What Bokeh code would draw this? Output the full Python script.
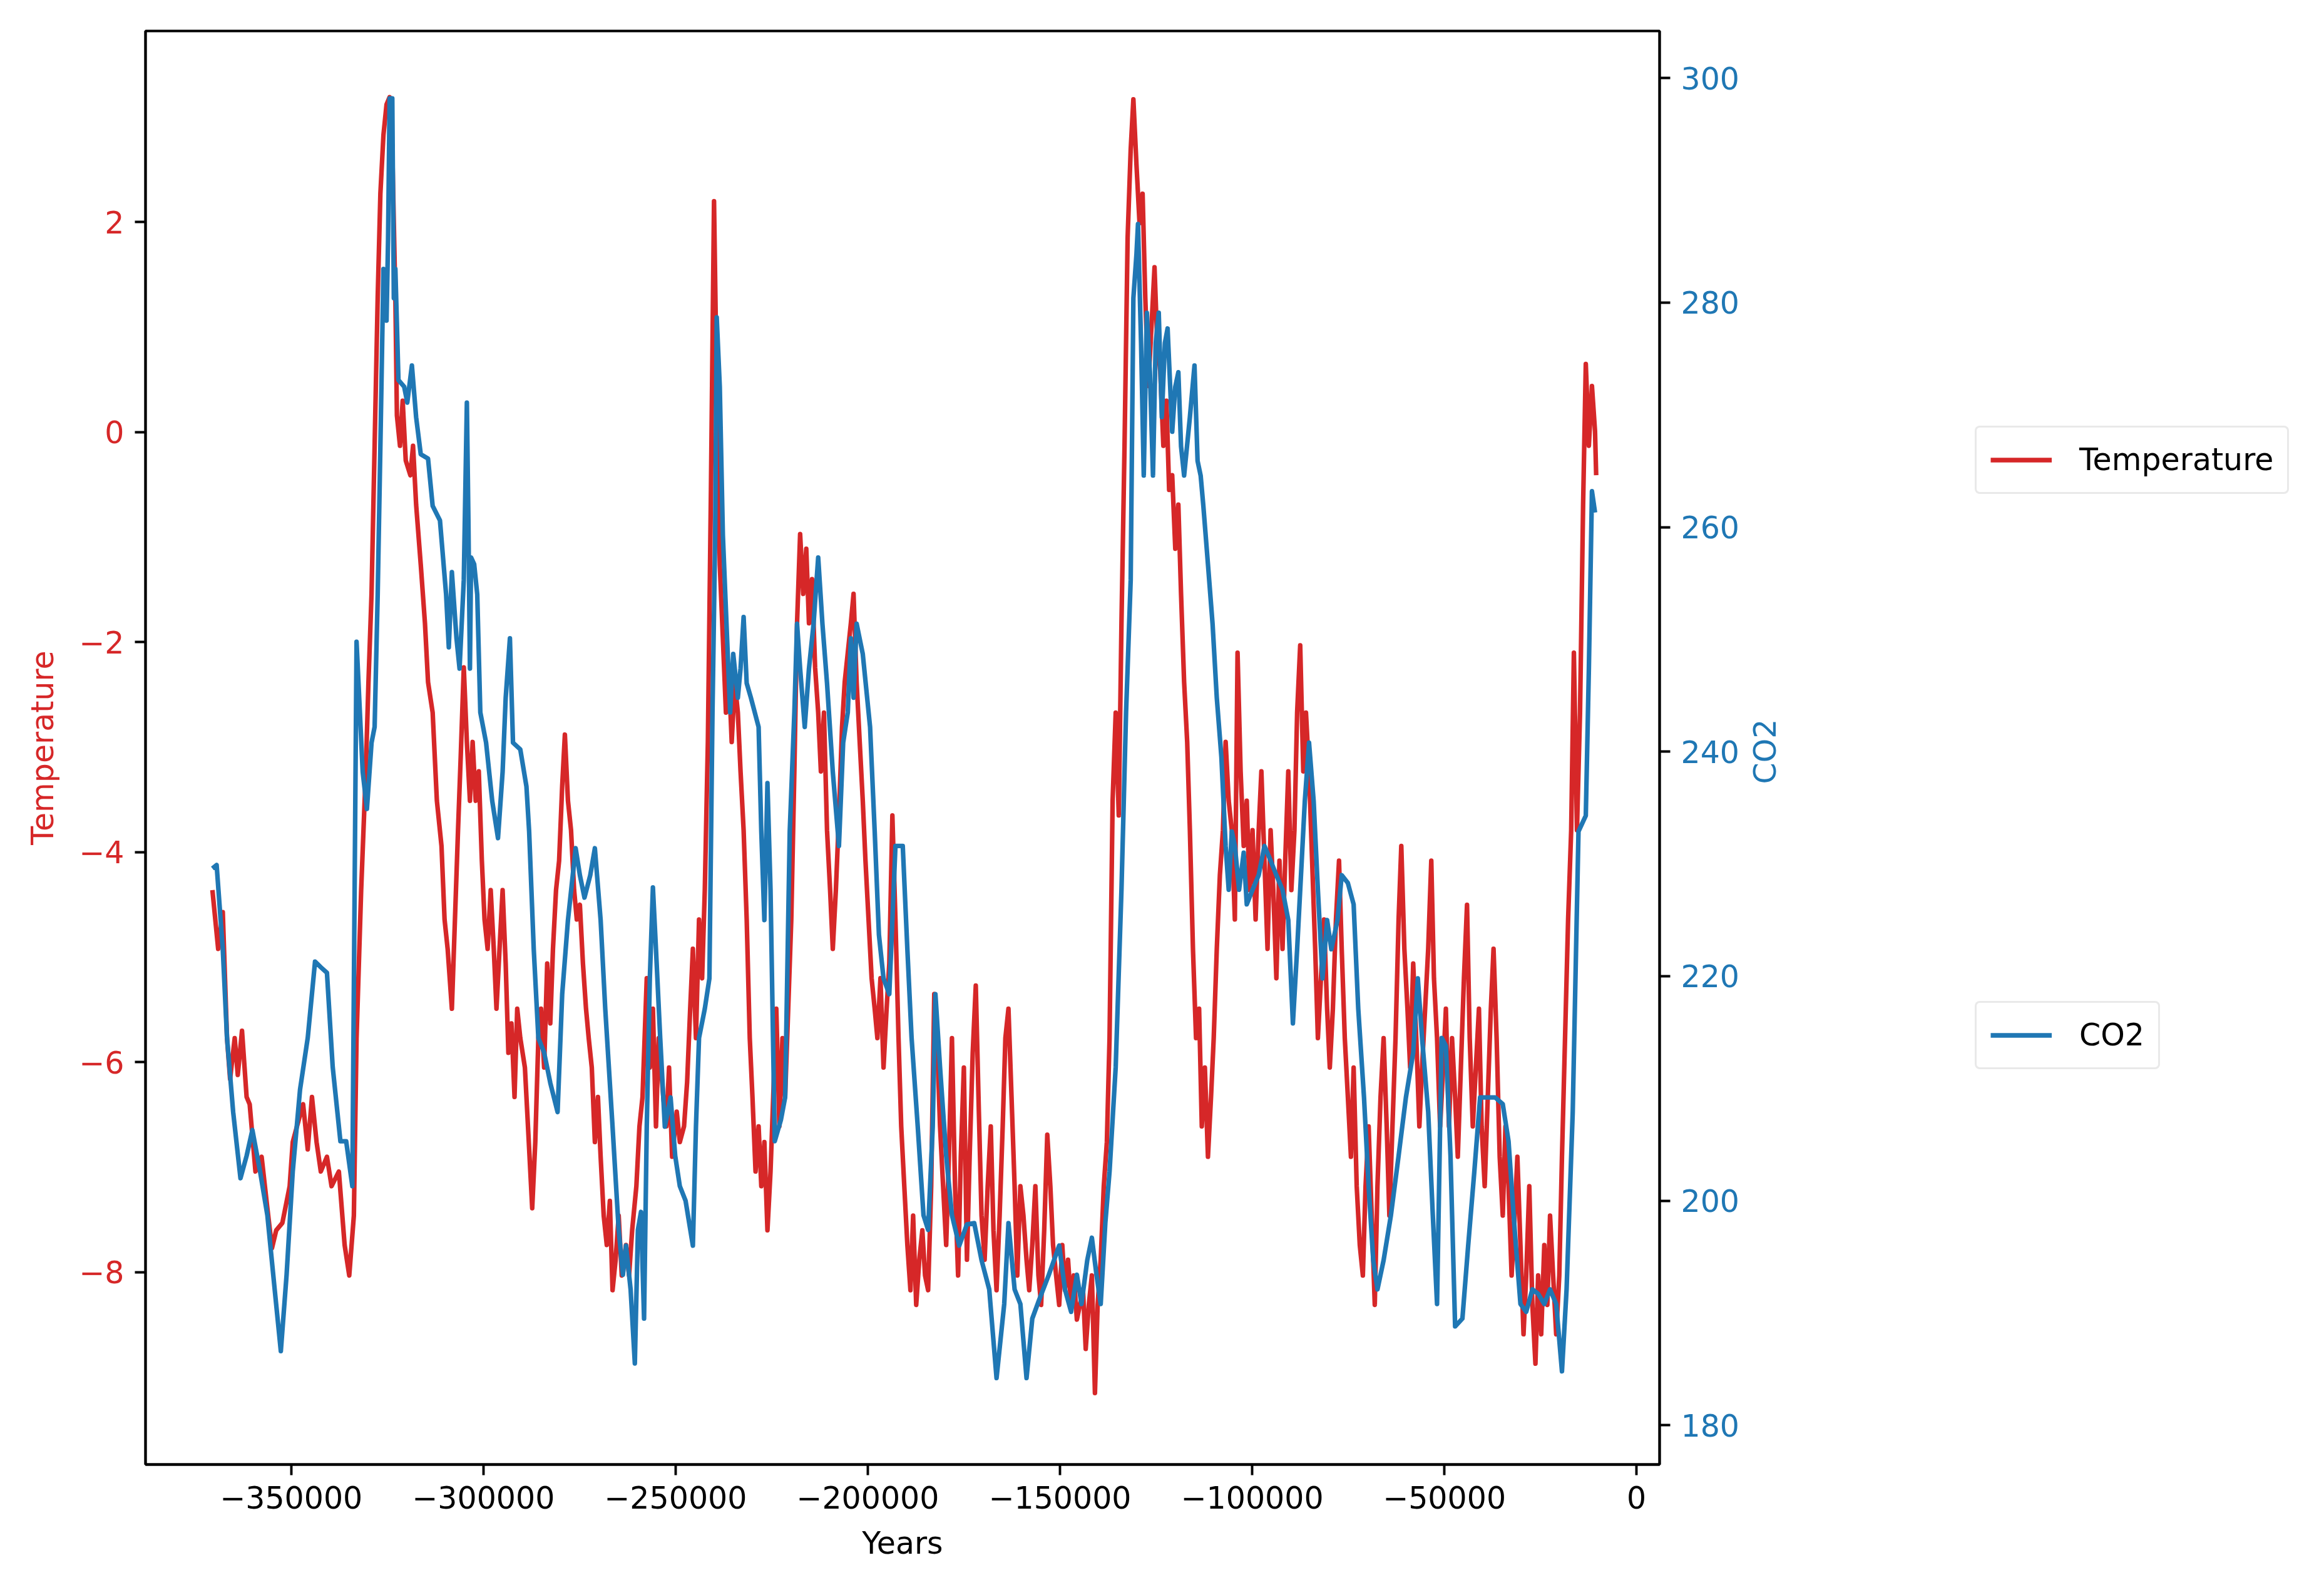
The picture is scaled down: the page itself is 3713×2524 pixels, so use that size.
from bokeh.plotting import figure
from bokeh.layouts import row
from bokeh.models import (Range1d, LinearAxis, FixedTicker, CustomJSTickFormatter,
                          Legend, LegendItem, Label)
from bokeh.embed import file_html
from bokeh.resources import INLINE

# ---------------- data ----------------
temp_kyr = [
    -370.5, -369.0, -367.8, -366.7, -365.9, -364.7, -363.9, -362.8, -361.6, -360.8,
    -359.3, -357.7, -356.2, -355.0, -353.9, -352.3, -350.4, -349.6, -348.5, -346.9,
    -345.7, -344.6, -343.4, -342.3, -340.7, -339.5, -337.6, -336.1, -334.9, -333.7,
    -333.0, -331.8, -330.6, -329.9, -329.1, -328.3, -327.5, -326.8, -326.0, -325.2,
    -324.4, -323.7, -322.9, -322.5, -321.7, -321.0, -320.2, -319.0, -318.3, -317.5,
    -316.3, -315.2, -314.4, -313.2, -312.1, -310.9, -310.1, -309.3, -308.2, -307.4,
    -306.6, -305.9, -305.1, -304.3, -303.5, -302.8, -302.0, -301.2, -300.4, -299.7,
    -298.9, -298.1, -297.3, -296.6, -295.8, -295.0, -294.2, -293.5, -292.7, -291.9,
    -291.2, -290.4, -289.2, -288.4, -287.3, -286.5, -285.7, -285.0, -284.2, -283.4,
    -282.6, -281.9, -281.1, -280.3, -279.5, -278.8, -278.0, -277.2, -276.4, -275.7,
    -274.9, -274.1, -273.3, -272.6, -271.8, -271.0, -270.2, -269.5, -268.7, -267.9,
    -267.1, -266.4, -265.6, -264.8, -264.0, -262.9, -262.1, -261.3, -260.2, -259.4,
    -258.6, -257.5, -256.7, -255.9, -255.1, -254.4, -253.2, -252.4, -251.7, -250.9,
    -249.7, -248.9, -247.8, -247.0, -246.2, -245.5, -244.7, -243.9, -243.1, -242.4,
    -241.6, -240.8, -240.0, -239.3, -238.5, -237.7, -236.9, -236.2, -235.4, -234.6,
    -233.8, -233.1, -232.3, -231.5, -230.7, -230.0, -229.2, -228.4, -227.7, -226.9,
    -226.1, -225.3, -224.6, -223.8, -223.0, -222.2, -221.5, -220.7, -219.9, -219.1,
    -218.4, -217.6, -216.8, -216.0, -215.3, -214.5, -213.7, -212.9, -212.2, -211.4,
    -210.6, -209.8, -209.1, -208.3, -207.5, -206.7, -206.0, -205.2, -204.4, -203.7,
    -202.9, -202.1, -201.3, -200.6, -199.8, -199.0, -198.2, -197.5, -196.7, -195.9,
    -195.1, -194.4, -193.6, -192.8, -192.0, -191.3, -190.5, -189.7, -188.9, -188.2,
    -187.4, -186.6, -185.8, -185.1, -184.3, -183.5, -182.7, -182.0, -181.2, -180.4,
    -179.6, -178.9, -178.1, -177.3, -176.5, -175.8, -175.0, -174.2, -173.5, -172.7,
    -171.9, -171.1, -170.4, -169.6, -168.8, -168.0, -167.3, -166.5, -165.7, -164.9,
    -164.2, -163.4, -162.6, -161.8, -161.1, -160.3, -159.5, -158.7, -158.0, -157.2,
    -156.4, -155.6, -154.9, -154.1, -153.3, -152.5, -151.8, -151.0, -150.2, -149.4,
    -148.7, -147.9, -147.1, -146.4, -145.6, -144.8, -144.0, -143.3, -142.5, -141.7,
    -140.9, -140.2, -139.4, -138.6, -137.8, -137.1, -136.3, -135.5, -134.7, -134.0,
    -133.2, -132.4, -131.6, -130.9, -130.1, -129.3, -128.5, -127.8, -127.0, -126.2,
    -125.4, -124.7, -123.9, -123.1, -122.3, -121.6, -120.8, -120.0, -119.2, -118.5,
    -117.7, -116.9, -116.2, -115.4, -114.6, -113.8, -113.1, -112.3, -111.5, -110.7,
    -110.0, -109.2, -108.4, -107.6, -106.9, -106.1, -105.3, -104.5, -103.8, -103.0,
    -102.2, -101.4, -100.7, -99.9, -99.1, -98.3, -97.6, -96.8, -96.0, -95.2,
    -94.5, -93.7, -92.9, -92.1, -91.4, -90.6, -89.8, -89.0, -88.3, -87.5,
    -86.7, -86.0, -85.2, -84.4, -83.6, -82.9, -82.1, -81.3, -80.5, -79.8,
    -79.0, -78.2, -77.4, -76.7, -75.9, -75.1, -74.3, -73.6, -72.8, -72.0,
    -71.2, -70.5, -69.7, -68.9, -68.1, -67.4, -66.6, -65.8, -65.0, -64.3,
    -63.5, -62.7, -61.9, -61.2, -60.4, -59.6, -58.9, -58.1, -57.3, -56.5,
    -55.8, -55.0, -54.2, -53.4, -52.7, -51.9, -51.1, -50.3, -49.6, -48.8,
    -48.0, -47.2, -46.5, -45.7, -44.9, -44.1, -43.4, -42.6, -41.8, -41.0,
    -40.3, -39.5, -38.7, -37.9, -37.2, -36.4, -35.6, -34.8, -34.1, -33.3,
    -32.5, -31.7, -31.0, -30.2, -29.4, -28.7, -27.9, -27.1, -26.3, -25.6,
    -24.8, -24.0, -23.2, -22.5, -21.7, -20.9, -20.1, -19.4, -18.6, -17.8,
    -17.0, -16.3, -15.5, -14.7, -13.9, -13.2, -12.4, -11.6, -10.8, -10.5,
]
temp_values = [
    -4.36, -4.92, -4.57, -5.77, -6.16, -5.77, -6.12, -5.70, -6.33, -6.40,
    -7.04, -6.90, -7.39, -7.77, -7.60, -7.53, -7.18, -6.76, -6.61, -6.40,
    -6.83, -6.33, -6.76, -7.04, -6.90, -7.18, -7.04, -7.74, -8.03, -7.46,
    -5.77, -4.36, -3.23, -2.38, -1.54, -0.13, 1.28, 2.27, 2.83, 3.12,
    3.19, 2.69, 1.28, 0.16, -0.13, 0.30, -0.27, -0.41, -0.13, -0.69,
    -1.26, -1.82, -2.38, -2.67, -3.51, -3.94, -4.64, -4.92, -5.49, -4.64,
    -3.79, -3.09, -2.24, -2.95, -3.51, -2.95, -3.51, -3.23, -4.08, -4.64,
    -4.92, -4.36, -4.92, -5.49, -4.92, -4.36, -5.06, -5.91, -5.63, -6.33,
    -5.49, -5.77, -6.05, -6.61, -7.39, -6.76, -5.77, -5.49, -6.05, -5.06,
    -5.63, -4.92, -4.36, -4.08, -3.37, -2.88, -3.51, -3.79, -4.36, -4.64,
    -4.50, -5.06, -5.49, -5.77, -6.05, -6.76, -6.33, -6.90, -7.46, -7.74,
    -7.32, -8.17, -7.88, -7.46, -8.03, -7.74, -8.03, -7.60, -7.18, -6.61,
    -6.33, -5.20, -6.05, -5.49, -6.61, -5.77, -6.33, -6.61, -6.05, -6.90,
    -6.47, -6.76, -6.61, -6.19, -5.49, -4.92, -5.77, -4.64, -5.20, -4.36,
    -2.95, -0.55, 2.20, 0.44, -1.26, -1.96, -2.67, -2.24, -2.95, -2.38,
    -2.67, -3.23, -3.79, -4.64, -5.77, -6.33, -7.04, -6.61, -7.18, -6.76,
    -7.60, -7.04, -6.33, -5.49, -6.61, -5.77, -6.33, -5.49, -4.64, -3.23,
    -1.82, -0.97, -1.54, -1.11, -1.82, -1.40, -2.24, -2.67, -3.23, -2.67,
    -3.79, -4.36, -4.92, -4.36, -3.65, -2.81, -2.38, -2.10, -1.82, -1.54,
    -2.38, -2.95, -3.51, -4.08, -4.64, -5.20, -5.49, -5.77, -5.20, -6.05,
    -5.49, -5.06, -3.65, -4.64, -5.77, -6.61, -7.18, -7.74, -8.17, -7.46,
    -8.31, -7.88, -7.60, -8.03, -8.17, -7.18, -5.35, -5.77, -6.61, -7.18,
    -7.74, -6.90, -5.77, -7.18, -8.03, -6.90, -6.05, -7.88, -6.90, -5.91,
    -5.27, -6.47, -7.46, -7.88, -7.18, -6.61, -7.60, -8.17, -7.46, -6.61,
    -5.77, -5.49, -6.33, -7.18, -8.03, -7.18, -7.46, -7.88, -8.17, -7.74,
    -7.18, -8.03, -8.31, -7.60, -6.69, -7.18, -7.74, -8.03, -8.31, -7.74,
    -8.17, -7.88, -8.31, -8.03, -8.45, -8.31, -8.17, -8.73, -8.31, -8.03,
    -9.15, -8.31, -7.88, -7.18, -6.76, -5.77, -3.51, -2.67, -3.65, -1.82,
    -0.13, 1.85, 2.69, 3.17, 2.55, 1.99, 2.27, 1.28, 0.44, 1.00,
    1.57, 0.86, 0.58, -0.13, 0.30, -0.55, -0.41, -1.11, -0.69, -1.54,
    -2.38, -2.95, -3.79, -4.92, -5.77, -5.49, -6.61, -6.05, -6.90, -6.33,
    -5.77, -4.92, -4.22, -3.79, -2.95, -3.51, -3.79, -4.64, -2.10, -3.23,
    -3.94, -3.51, -4.36, -3.79, -4.64, -3.79, -3.23, -4.08, -4.92, -3.79,
    -4.36, -5.20, -4.08, -4.92, -4.08, -3.23, -4.36, -3.79, -2.67, -2.03,
    -3.23, -2.67, -3.23, -4.08, -4.92, -5.77, -5.20, -4.64, -5.49, -6.05,
    -5.49, -4.64, -4.08, -4.92, -5.77, -6.33, -6.90, -6.05, -7.18, -7.74,
    -8.03, -7.18, -6.61, -7.46, -8.31, -7.18, -6.33, -5.77, -6.61, -7.46,
    -6.61, -5.77, -4.64, -3.94, -4.92, -5.49, -6.05, -5.06, -5.77, -6.61,
    -6.05, -5.49, -4.92, -4.08, -5.20, -5.77, -6.61, -6.05, -5.49, -6.61,
    -5.77, -6.33, -6.90, -6.05, -5.20, -4.50, -5.77, -6.61, -6.05, -5.49,
    -6.61, -7.18, -6.33, -5.49, -4.92, -5.77, -6.90, -7.46, -6.61, -7.18,
    -8.03, -7.46, -6.90, -7.74, -8.59, -8.03, -7.18, -8.31, -8.87, -8.03,
    -8.59, -7.74, -8.31, -7.46, -8.03, -8.59, -8.03, -6.90, -5.77, -4.64,
    -3.79, -2.10, -3.79, -2.67, -0.69, 0.65, -0.13, 0.44, 0.01, -0.41,
]

co2_kyr = [
    -370.5, -369.4, -367.8, -366.7, -365.1, -363.2, -361.6, -360.1, -358.1, -356.2,
    -354.3, -352.7, -351.2, -349.6, -347.7, -345.7, -343.8, -342.3, -340.7, -339.2,
    -337.2, -335.7, -334.1, -333.0, -331.4, -330.3, -329.1, -328.3, -327.5, -326.8,
    -326.0, -325.2, -324.8, -324.4, -323.7, -323.3, -322.9, -322.1, -320.6, -319.8,
    -318.6, -317.5, -316.3, -314.4, -313.2, -311.3, -309.7, -309.0, -308.2, -307.0,
    -306.2, -305.1, -304.3, -303.9, -303.5, -303.2, -302.4, -301.6, -300.8, -299.3,
    -297.7, -296.2, -295.0, -294.2, -293.1, -292.3, -290.4, -288.8, -288.1, -286.9,
    -285.7, -284.2, -282.6, -280.7, -279.5, -278.0, -276.0, -274.9, -273.7, -272.2,
    -271.0, -269.5, -268.3, -266.4, -264.8, -263.7, -262.9, -261.7, -260.6, -259.8,
    -259.0, -258.2, -257.5, -256.7, -255.9, -255.1, -254.0, -252.8, -251.3, -250.1,
    -248.9, -247.4, -245.5, -244.7, -243.9, -242.4, -241.2, -240.4, -239.7, -239.3,
    -238.5, -237.7, -236.6, -235.8, -235.0, -233.8, -233.1, -232.3, -231.5, -230.4,
    -228.4, -227.7, -226.9, -226.1, -225.3, -224.2, -222.6, -221.5, -220.3, -219.1,
    -218.4, -217.6, -216.4, -215.3, -214.1, -212.9, -211.8, -210.6, -209.1, -207.5,
    -206.4, -205.2, -204.4, -203.7, -202.9, -201.3, -199.4, -198.2, -197.1, -195.9,
    -194.4, -192.8, -190.9, -189.7, -188.6, -187.0, -185.5, -184.3, -183.1, -182.4,
    -181.2, -179.6, -178.1, -176.2, -174.2, -172.3, -170.4, -168.4, -166.5, -164.5,
    -163.4, -161.8, -160.3, -158.7, -157.2, -155.6, -152.9, -150.2, -148.7, -147.1,
    -145.6, -144.4, -142.9, -141.7, -140.5, -139.4, -138.2, -137.1, -135.5, -134.0,
    -132.8, -131.6, -130.9, -130.1, -129.7, -128.9, -128.2, -127.4, -126.6, -125.8,
    -125.1, -124.3, -123.5, -122.7, -122.0, -120.8, -120.0, -119.2, -118.5, -117.7,
    -116.2, -115.0, -114.2, -113.4, -112.7, -111.5, -110.3, -109.2, -108.0, -106.9,
    -106.1, -105.3, -104.5, -103.4, -102.2, -101.4, -99.9, -98.3, -96.8, -95.2,
    -93.7, -92.1, -90.6, -89.4, -88.3, -87.1, -86.3, -85.2, -84.0, -82.9,
    -81.7, -80.5, -79.4, -77.8, -76.7, -75.1, -73.6, -72.4, -70.9, -69.7,
    -68.5, -67.4, -65.8, -63.9, -61.9, -60.0, -58.1, -56.9, -55.8, -54.2,
    -53.0, -51.9, -50.7, -49.6, -48.4, -47.2, -45.3, -43.8, -42.2, -40.7,
    -38.7, -36.8, -34.8, -33.3, -31.7, -30.2, -28.7, -27.1, -25.6, -24.0,
    -22.5, -20.9, -19.4, -18.2, -16.6, -15.1, -13.2, -12.4, -11.6, -10.8,
]
co2_values = [
    229.6, 229.9, 222.4, 214.5, 207.9, 202.0, 204.0, 206.3, 202.6, 198.7,
    192.1, 186.6, 193.4, 202.6, 209.9, 214.5, 221.3, 220.8, 220.3, 211.9,
    205.3, 205.3, 201.3, 249.8, 238.2, 234.9, 240.8, 242.2, 254.0, 267.2,
    283.0, 278.4, 285.6, 298.2, 298.2, 280.4, 283.0, 273.1, 272.5, 271.1,
    274.4, 269.8, 266.5, 266.1, 261.9, 260.6, 254.0, 249.3, 256.0, 250.1,
    247.4, 255.3, 271.1, 260.6, 247.4, 257.3, 256.7, 254.0, 243.5, 240.8,
    235.6, 232.3, 238.2, 244.8, 250.1, 240.8, 240.2, 236.9, 232.9, 222.4,
    214.5, 213.2, 210.5, 207.9, 218.4, 225.0, 231.4, 229.0, 227.0, 229.0,
    231.4, 225.0, 217.1, 206.6, 197.4, 193.4, 196.0, 192.1, 185.5, 197.4,
    199.0, 189.5, 206.6, 219.8, 227.9, 222.4, 214.5, 206.6, 209.2, 204.0,
    201.3, 200.0, 196.0, 206.6, 214.5, 217.1, 219.8, 243.5, 259.3, 278.7,
    272.5, 259.3, 250.1, 243.5, 248.7, 244.8, 247.4, 252.0, 246.1, 244.8,
    242.2, 232.9, 225.0, 237.2, 227.7, 205.3, 207.2, 209.2, 232.9, 243.5,
    251.4, 247.4, 242.2, 247.4, 251.4, 257.3, 251.4, 246.1, 238.2, 231.6,
    240.8, 243.5, 250.1, 244.8, 251.4, 248.7, 242.2, 232.9, 223.7, 219.8,
    218.4, 231.6, 231.6, 222.4, 214.5, 206.6, 198.7, 197.4, 206.6, 218.4,
    211.9, 204.0, 198.7, 196.0, 197.9, 198.0, 194.7, 192.1, 184.2, 190.8,
    198.0, 192.1, 190.8, 184.2, 189.5, 191.0, 193.4, 196.0, 192.1, 190.1,
    193.4, 190.8, 194.7, 196.7, 193.4, 190.8, 198.0, 202.6, 211.9, 227.7,
    243.5, 255.3, 280.4, 284.3, 287.0, 276.4, 264.6, 279.1, 273.8, 264.6,
    276.4, 279.1, 269.8, 276.4, 277.7, 268.5, 272.5, 273.8, 267.2, 264.6,
    269.8, 274.4, 265.9, 264.6, 261.9, 256.7, 251.4, 244.8, 239.5, 231.6,
    227.7, 232.9, 231.6, 227.7, 231.0, 226.4, 227.7, 229.0, 231.6, 230.3,
    229.0, 227.7, 225.0, 215.8, 222.4, 230.3, 235.6, 240.8, 235.6, 227.7,
    219.8, 225.0, 222.4, 225.0, 229.0, 228.3, 226.4, 217.1, 209.2, 201.3,
    194.7, 192.1, 194.7, 198.7, 204.0, 209.2, 213.2, 219.8, 214.5, 207.9,
    198.7, 190.8, 214.5, 213.8, 204.0, 188.8, 189.5, 196.0, 202.6, 209.2,
    209.2, 209.2, 208.6, 205.3, 197.4, 190.8, 190.1, 192.1, 191.7, 190.8,
    192.1, 190.8, 184.8, 192.1, 207.9, 232.9, 234.3, 247.4, 263.2, 261.3,
]

x_ticks = [-350000, -300000, -250000, -200000, -150000, -100000, -50000, 0]
temp_ticks = [-8, -6, -4, -2, 0, 2]
co2_ticks = [180, 200, 220, 240, 260, 280, 300]

temp_years = [k * 1000 for k in temp_kyr]
co2_years = [k * 1000 for k in co2_kyr]

RED = "#d62728"
BLUE = "#1f77b4"
FONT = "DejaVu Sans"
FS = "49px"

TOTAL_W = 3697
H = 2508
MAIN_W = 2790

p = figure(width=MAIN_W, height=H, output_backend="svg", toolbar_location=None,
           x_range=Range1d(-387900, 6000), y_range=Range1d(-9.83, 3.82),
           min_border_left=232, min_border_right=139, min_border_top=49,
           min_border_bottom=169)
p.extra_y_ranges = {"co2": Range1d(176.5, 304.2)}
p.grid.visible = False
p.background_fill_color = "white"
p.border_fill_color = "white"
p.outline_line_color = "black"
p.outline_line_width = 3.9

minus_fmt = "return (tick < 0 ? '\\u2212' : '') + Math.abs(tick).toFixed(0);"

def style_axis(ax, color_labels, color_title):
    ax.major_tick_in = 0
    ax.major_tick_out = 17
    ax.minor_tick_in = 0
    ax.minor_tick_out = 0
    ax.major_tick_line_width = 3.9
    ax.major_tick_line_color = "black"
    ax.axis_line_width = 3.9
    ax.axis_line_color = "black"
    ax.major_label_text_font = FONT
    ax.major_label_text_font_size = FS
    ax.major_label_text_color = color_labels
    ax.major_label_standoff = 17
    ax.axis_label_text_font = FONT
    ax.axis_label_text_font_size = FS
    ax.axis_label_text_font_style = "normal"
    ax.axis_label_text_color = color_title
    ax.formatter = CustomJSTickFormatter(code=minus_fmt)

xa = p.xaxis[0]
xa.ticker = FixedTicker(ticks=x_ticks)
xa.axis_label = "Years"
style_axis(xa, "black", "black")
xa.axis_label_standoff = 24

ya = p.yaxis[0]
ya.ticker = FixedTicker(ticks=temp_ticks)
ya.axis_label = "Temperature"
style_axis(ya, RED, RED)
ya.axis_label_standoff = 26

ra = LinearAxis(y_range_name="co2")
ra.ticker = FixedTicker(ticks=co2_ticks)
style_axis(ra, BLUE, BLUE)
p.add_layout(ra, "right")

r_temp = p.line(temp_years, temp_values, line_color=RED, line_width=7.3,
                line_join="round")
r_co2 = p.line(co2_years, co2_values, line_color=BLUE, line_width=7.3,
               line_join="round", y_range_name="co2")

# ---------------- side panel: CO2 axis title and the two legends ----------------
side = figure(width=TOTAL_W - MAIN_W, height=H, output_backend="svg",
              toolbar_location=None, x_range=Range1d(0, 1), y_range=Range1d(0, 1),
              x_axis_location=None, y_axis_location=None, min_border=0)
side.grid.visible = False
side.outline_line_color = None
side.background_fill_color = "white"
side.border_fill_color = "white"

nan = float("nan")
lg_temp = side.line([nan, nan], [nan, nan], line_color=RED, line_width=7.3)
lg_co2 = side.line([nan, nan], [nan, nan], line_color=BLUE, line_width=7.3)

side.add_layout(Label(x=30, y=1139, x_units="screen", y_units="screen",
                      text="CO2", angle=90, angle_units="deg",
                      text_align="center", text_baseline="middle",
                      text_font=FONT, text_font_size=FS, text_color=BLUE))

def make_legend(label, renderer, loc):
    lg = Legend(items=[LegendItem(label=label, renderers=[renderer])],
                location=loc, orientation="vertical")
    lg.label_text_font = FONT
    lg.label_text_font_size = FS
    lg.label_text_color = "black"
    lg.glyph_width = 98
    lg.glyph_height = 59
    lg.label_height = 59
    lg.label_standoff = 44
    lg.padding = 22
    lg.margin = 0
    lg.spacing = 0
    lg.border_line_color = "#d4d4d4"
    lg.border_line_width = 3
    lg.background_fill_color = "white"
    lg.background_fill_alpha = 1.0
    if "border_radius" in Legend.properties():
        lg.border_radius = 8
    return lg

side.add_layout(make_legend("Temperature", lg_temp, (365, 1550)), "center")
side.add_layout(make_legend("CO2", lg_co2, (365, 631)), "center")

layout = row(p, side)
open("out.html", "w", encoding="utf-8").write(file_html(layout, INLINE))
